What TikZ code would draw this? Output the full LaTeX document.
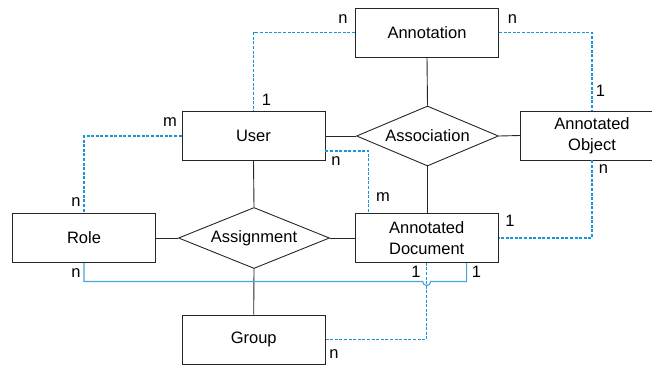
\documentclass[tikz,border=0pt]{standalone}
\usepackage{fontspec}
\setmainfont{Liberation Sans}
\usetikzlibrary{shapes.geometric}
\definecolor{dashblue}{RGB}{25,150,215}
\definecolor{lineblue}{RGB}{70,165,220}
\tikzset{
  ent/.style={draw=black!85, line width=0.9pt, minimum width=143pt, minimum height=49pt, inner sep=0pt, align=center, font=\fontsize{16.5}{21}\selectfont},
  rel/.style={draw=black!85, line width=0.9pt, diamond, aspect=2.45, minimum width=151pt, minimum height=61pt, inner sep=0pt, font=\fontsize{16.5}{21}\selectfont},
  solidcon/.style={draw=black!85, line width=0.9pt},
  dashcon/.style={draw=dashblue, line width=1.3pt, dash pattern=on 3pt off 1.6pt},
  bluecon/.style={draw=lineblue, line width=1.1pt},
  card/.style={inner sep=0pt, font=\fontsize{16.5}{21}\selectfont}
}
\begin{document}
\begin{tikzpicture}[x=1pt,y=-1pt]
\useasboundingbox (0,0) rectangle (652,365);
% entities
\node[ent] (ann) at (427,32.5) {Annotation};
\node[ent] (user) at (253.5,136) {User};
\node[ent] (ao) at (592,135.5) {Annotated\\Object};
\node[ent] (role) at (84,238) {Role};
\node[ent] (ad) at (426.7,238) {Annotated\\Document};
\node[ent] (group) at (253.7,339.5) {Group};
% relationships
\node[rel, minimum width=142pt, minimum height=60pt] (assoc) at (427.5,136) {Association};
\node[rel] (assign) at (254,238) {Assignment};
% solid connectors
\draw[solidcon] (ann.south) -- (assoc.north);
\draw[solidcon] (assoc.south) -- (ad.north -| assoc.south);
\draw[solidcon] (user.east) -- (assoc.west);
\draw[solidcon] (assoc.east) -- (ao.west);
\draw[solidcon] (user.south) -- (assign.north);
\draw[solidcon] (assign.south) -- (group.north);
\draw[solidcon] (role.east) -- (assign.west);
\draw[solidcon] (assign.east) -- (ad.west);
% coordinates for dashed/blue connectors
\coordinate (userE) at ([yshift=-15pt]user.east);
\coordinate (adTopL) at ([xshift=14pt]ad.north west);
\coordinate (adBotR) at ([xshift=-32pt]ad.south east);
\coordinate (bendL) at (role.south |- 0,281.5);
\coordinate (hopL) at (ad.south |- 0,281.5);
% dashed connectors
\draw[dashcon] (ann.west) -| (user.north);
\draw[dashcon] (ann.east) -| (ao.north);
\draw[dashcon] (user.west) -| (role.north);
\draw[dashcon] (userE) -| (adTopL);
\draw[dashcon] (ao.south) |- (ad.east);
\draw[dashcon] (group.east) -| (ad.south);
% solid blue connector with hop
\draw[bluecon] (role.south) -- (bendL) -- ([xshift=-4pt]hopL) arc[start angle=180, end angle=360, radius=4pt] -- (adBotR |- hopL) -- (adBotR);
% cardinalities
\node[card] (c1) at (343,19.5) {n};
\node[card] (c2) at (512.5,19) {n};
\node[card] (c3) at (266.5,99.5) {1};
\node[card] (c4) at (600.5,91) {1};
\node[card] (c5) at (170,122) {m};
\node[card] (c6) at (76,202) {n};
\node[card] (c7) at (336,161.5) {n};
\node[card] (c8) at (383,197.5) {m};
\node[card] (c9) at (603.5,169.5) {n};
\node[card] (c10) at (510,221) {1};
\node[card] (c11) at (416,272) {1};
\node[card] (c12) at (476.5,272) {1};
\node[card] (c13) at (76,273.5) {n};
\node[card] (c14) at (334,354.5) {n};
\end{tikzpicture}
\end{document}
